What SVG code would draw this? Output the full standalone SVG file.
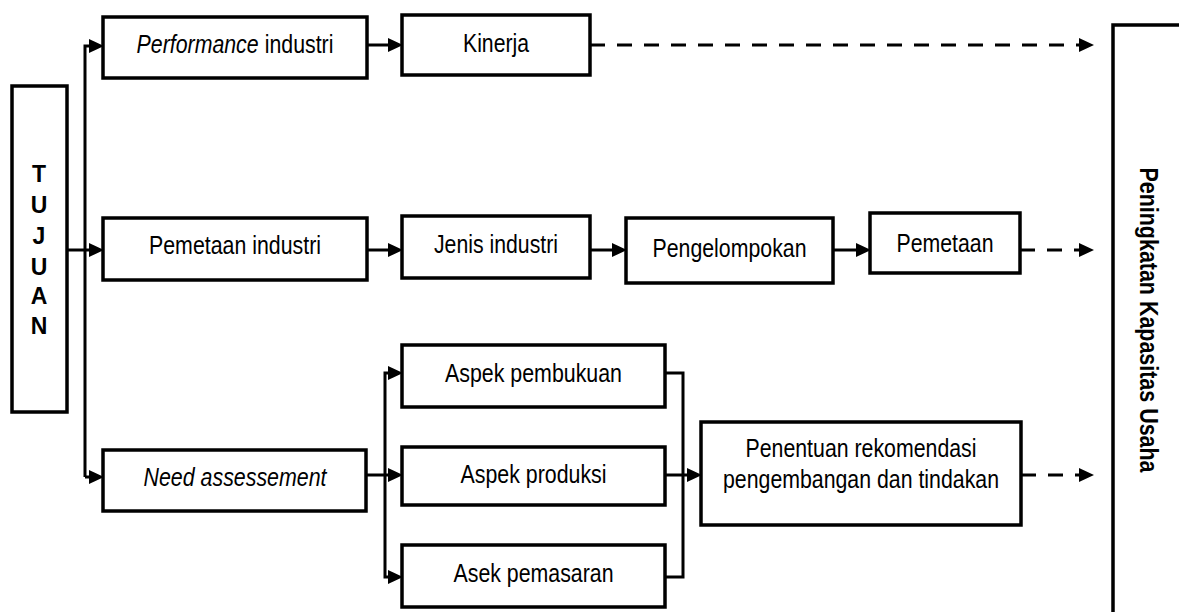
<svg xmlns="http://www.w3.org/2000/svg" width="1179" height="612" viewBox="0 0 1179 612">
<style>
  .box{fill:#fff;stroke:#000;stroke-width:3.5}
  .t{font-family:"Liberation Sans Narrow","Liberation Sans",Arial,sans-serif;font-size:26px;fill:#000;text-anchor:middle}
  .s{text-anchor:start}
  .b{font-weight:bold}
  .i{font-style:italic}
  .c{fill:none;stroke:#000;stroke-width:3}
  .d{stroke-dasharray:15 12}
</style>
<defs>
  <marker id="ah" markerUnits="userSpaceOnUse" markerWidth="16" markerHeight="14" viewBox="0 0 16 14" refX="4" refY="7" orient="auto">
    <path d="M0,0 L15,7 L0,14 z" fill="#000"/>
  </marker>
</defs>
<rect width="1179" height="612" fill="#fff"/>

<g id="connectors">
  <path class="c" d="M85,477 V46 H93" marker-end="url(#ah)"/>
  <path class="c" d="M85,477 H93" marker-end="url(#ah)"/>
  <path class="c" d="M67,250 H93" marker-end="url(#ah)"/>
  <path class="c" d="M367,45 H392" marker-end="url(#ah)"/>
  <path class="c d" d="M590,45 H1083" marker-end="url(#ah)"/>
  <path class="c" d="M367,250 H392" marker-end="url(#ah)"/>
  <path class="c" d="M590,250 H616" marker-end="url(#ah)"/>
  <path class="c" d="M833,250 H860" marker-end="url(#ah)"/>
  <path class="c d" d="M1020,250 H1083" marker-end="url(#ah)"/>
  <path class="c" d="M366,475 H392" marker-end="url(#ah)"/>
  <path class="c" d="M385,475 V373 H392" marker-end="url(#ah)"/>
  <path class="c" d="M385,475 V577 H392" marker-end="url(#ah)"/>
  <path class="c" d="M665,373 H683 V577 H665"/>
  <path class="c" d="M665,475 H691" marker-end="url(#ah)"/>
  <path class="c d" d="M1021,475 H1083" marker-end="url(#ah)"/>
</g>

<g id="tujuan">
  <rect class="box" x="12" y="86" width="55" height="326"/>
  <text class="t b" x="39" y="182" style="font-size:23px">T</text>
  <text class="t b" x="39" y="213" style="font-size:23px">U</text>
  <text class="t b" x="39" y="244" style="font-size:23px">J</text>
  <text class="t b" x="39" y="275" style="font-size:23px">U</text>
  <text class="t b" x="39" y="304" style="font-size:23px">A</text>
  <text class="t b" x="39" y="334" style="font-size:23px">N</text>
</g>

<g id="performance">
  <rect class="box" x="103" y="17" width="264" height="61"/>
  <g transform="scale(0.82,1)">
    <text class="t s i" x="166.6" y="53">Performance</text>
    <text class="t s" x="322.8" y="53">industri</text>
  </g>
</g>
<g id="kinerja">
  <rect class="box" x="402" y="15" width="188" height="60"/>
  <text class="t" x="496" y="52" textLength="66" lengthAdjust="spacingAndGlyphs">Kinerja</text>
</g>

<g id="pemetaan-industri">
  <rect class="box" x="103" y="218" width="264" height="62"/>
  <text class="t" x="235" y="254" textLength="172" lengthAdjust="spacingAndGlyphs">Pemetaan industri</text>
</g>
<g id="jenis-industri">
  <rect class="box" x="402" y="216" width="188" height="62"/>
  <text class="t" x="496" y="253" textLength="124" lengthAdjust="spacingAndGlyphs">Jenis industri</text>
</g>
<g id="pengelompokan">
  <rect class="box" x="626" y="218" width="207" height="65"/>
  <text class="t" x="729.5" y="257" textLength="154" lengthAdjust="spacingAndGlyphs">Pengelompokan</text>
</g>
<g id="pemetaan">
  <rect class="box" x="870" y="213" width="150" height="60"/>
  <text class="t" x="945" y="252" textLength="97" lengthAdjust="spacingAndGlyphs">Pemetaan</text>
</g>

<g id="need-assessement">
  <rect class="box" x="103" y="450" width="263" height="61"/>
  <text class="t i" x="235" y="486" textLength="183" lengthAdjust="spacingAndGlyphs">Need assessement</text>
</g>
<g id="aspek-pembukuan">
  <rect class="box" x="402" y="345" width="263" height="62"/>
  <text class="t" x="533.5" y="382" textLength="177" lengthAdjust="spacingAndGlyphs">Aspek pembukuan</text>
</g>
<g id="aspek-produksi">
  <rect class="box" x="402" y="447" width="263" height="58"/>
  <text class="t" x="533.5" y="483" textLength="146" lengthAdjust="spacingAndGlyphs">Aspek produksi</text>
</g>
<g id="asek-pemasaran">
  <rect class="box" x="402" y="545" width="263" height="62"/>
  <text class="t" x="533.5" y="582" textLength="160" lengthAdjust="spacingAndGlyphs">Asek pemasaran</text>
</g>
<g id="penentuan">
  <rect class="box" x="701" y="422" width="320" height="103"/>
  <text class="t" x="861" y="457" textLength="231" lengthAdjust="spacingAndGlyphs">Penentuan rekomendasi</text>
  <text class="t" x="861" y="488" textLength="276" lengthAdjust="spacingAndGlyphs">pengembangan dan tindakan</text>
</g>

<g id="peningkatan">
  <rect class="box" x="1113" y="25" width="120" height="700"/>
  <text class="t b" transform="translate(1140,320) rotate(90)" x="0" y="0" textLength="305" lengthAdjust="spacingAndGlyphs">Peningkatan Kapasitas Usaha</text>
</g>
</svg>
